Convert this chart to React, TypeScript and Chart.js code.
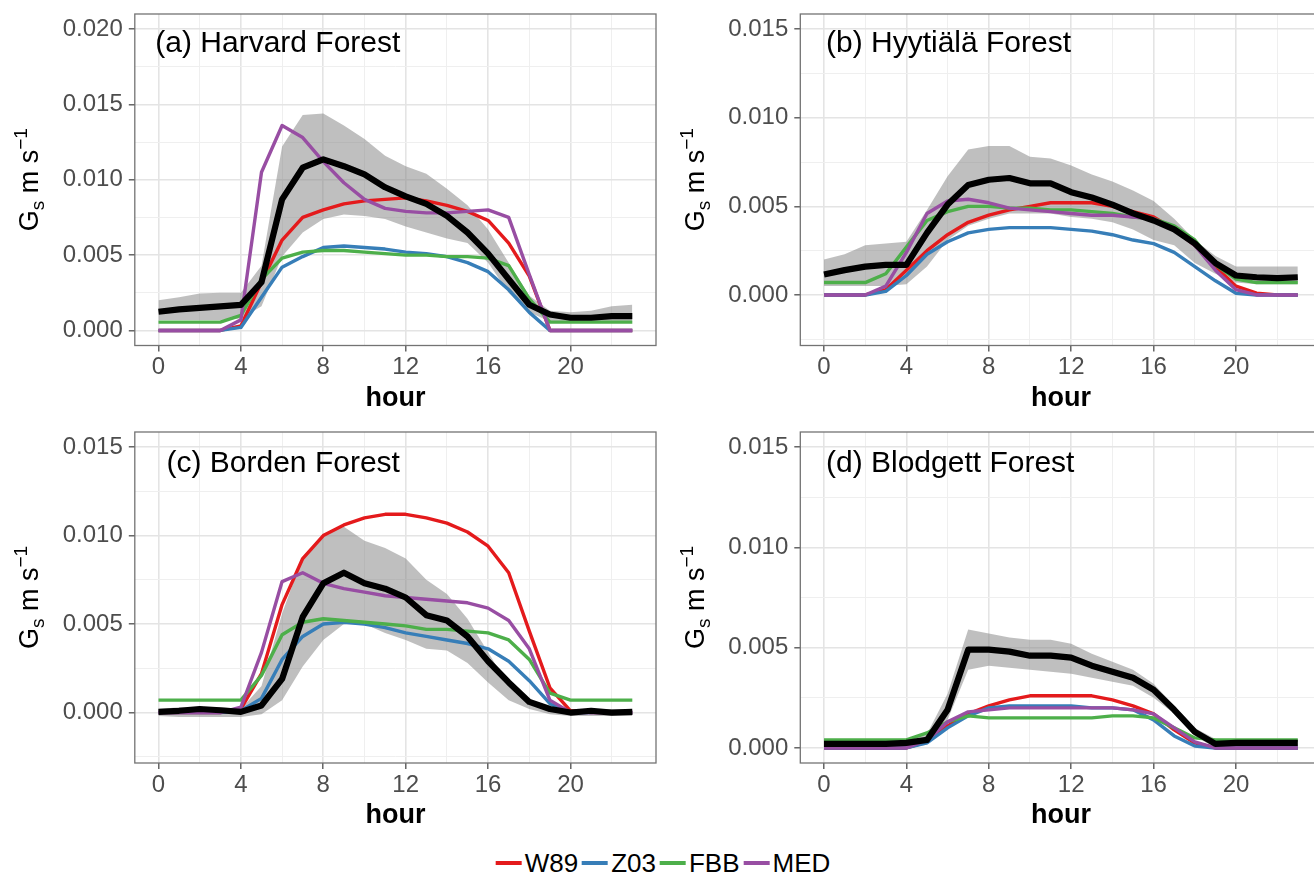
import React, { useEffect, useRef } from 'react';
import { Chart, registerables } from 'chart.js';

Chart.register(...registerables);

const FONT = '"Liberation Sans", Arial, Helvetica, sans-serif';

// ---------------- data ----------------
const HOURS = [0, 1, 2, 3, 4, 5, 6, 7, 8, 9, 10, 11, 12, 13, 14, 15, 16, 17, 18, 19, 20, 21, 22, 23];

const X_MAJOR = [0, 4, 8, 12, 16, 20];
const X_MINOR = [2, 6, 10, 14, 18, 22];

const A_Y_MAJOR = [0, 0.005, 0.01, 0.015, 0.02];
const A_Y_MINOR = [0.0025, 0.0075, 0.0125, 0.0175];
const BC_Y_MAJOR = [0, 0.005, 0.01, 0.015];
const BC_Y_MINOR = [-0.0025, 0.0025, 0.0075, 0.0125];
const D_Y_MAJOR = [0, 0.005, 0.01, 0.015];
const D_Y_MINOR = [0.0025, 0.0075, 0.0125];

const SERIES_NAMES = ['W89', 'Z03', 'FBB', 'MED'];
const SERIES_COLORS = ['#E41A1C', '#377EB8', '#4DAF4A', '#984EA3'];

// (a) Harvard Forest
const A_OBS = [0.00124, 0.0014, 0.0015, 0.0016, 0.0017, 0.0032, 0.0087, 0.0108, 0.01135, 0.0109, 0.01035, 0.0095, 0.0089, 0.0084, 0.0076, 0.0065, 0.0051, 0.0034, 0.0017, 0.00106, 0.00084, 0.00084, 0.00095, 0.00095];
const A_UP = [0.002, 0.0022, 0.00245, 0.0025, 0.0025, 0.0043, 0.0122, 0.0143, 0.0144, 0.0136, 0.0127, 0.0116, 0.0109, 0.0104, 0.0094, 0.0083, 0.0067, 0.0045, 0.0023, 0.0013, 0.0012, 0.0013, 0.0016, 0.0017];
const A_LO = [0.0007, 0.0007, 0.0007, 0.0007, 0.0008, 0.0016, 0.0049, 0.0065, 0.0074, 0.0077, 0.0076, 0.0074, 0.0069, 0.0065, 0.0061, 0.0058, 0.0045, 0.0025, 0.0012, 0.0006, 0.0006, 0.0006, 0.0006, 0.0006];
const A_W89 = [0, 0, 0, 0, 0.0003, 0.0032, 0.006, 0.0075, 0.008, 0.0084, 0.0086, 0.0087, 0.0088, 0.0086, 0.0083, 0.0079, 0.0073, 0.0058, 0.0036, 0, 0, 0, 0, 0];
const A_Z03 = [0, 0, 0, 0, 0.0002, 0.0022, 0.0042, 0.0049, 0.0055, 0.0056, 0.0055, 0.0054, 0.0052, 0.0051, 0.0049, 0.0045, 0.0039, 0.0027, 0.0012, 0, 0, 0, 0, 0];
const A_FBB = [0.00055, 0.00055, 0.00055, 0.00055, 0.001, 0.0034, 0.0048, 0.0052, 0.0053, 0.0053, 0.0052, 0.0051, 0.005, 0.005, 0.0049, 0.0049, 0.0048, 0.0043, 0.0021, 0.00055, 0.00055, 0.00055, 0.00055, 0.00055];
const A_MED = [0, 0, 0, 0, 0.0007, 0.0105, 0.0136, 0.0128, 0.0112, 0.0098, 0.0087, 0.0081, 0.0079, 0.0078, 0.0078, 0.0079, 0.008, 0.0075, 0.0037, 0, 0, 0, 0, 0];

// (b) Hyytiälä Forest
const B_OBS = [0.00116, 0.0014, 0.0016, 0.0017, 0.0017, 0.0035, 0.0051, 0.0062, 0.0065, 0.0066, 0.0063, 0.0063, 0.0058, 0.0055, 0.0051, 0.0046, 0.0042, 0.0037, 0.0029, 0.0018, 0.0011, 0.001, 0.00095, 0.001];
const B_UP = [0.002, 0.0023, 0.0028, 0.0029, 0.003, 0.0048, 0.0067, 0.0082, 0.0084, 0.0084, 0.0078, 0.0077, 0.0073, 0.0068, 0.0064, 0.0059, 0.0053, 0.0043, 0.0031, 0.0022, 0.0016, 0.0016, 0.0016, 0.0016];
const B_LO = [0.0005, 0.0005, 0.0005, 0.0005, 0.0006, 0.0016, 0.0031, 0.0039, 0.0043, 0.0046, 0.0046, 0.0046, 0.0044, 0.0043, 0.0041, 0.0037, 0.0031, 0.0028, 0.0018, 0.0012, 0.0007, 0.0006, 0.0006, 0.0006];
const B_W89 = [0, 0, 0, 0.0003, 0.0014, 0.0025, 0.0034, 0.0041, 0.0045, 0.0048, 0.005, 0.0052, 0.0052, 0.0052, 0.005, 0.0047, 0.0044, 0.0037, 0.0028, 0.0016, 0.0005, 0.0001, 0, 0];
const B_Z03 = [0, 0, 0, 0.0002, 0.0011, 0.0023, 0.003, 0.0035, 0.0037, 0.0038, 0.0038, 0.0038, 0.0037, 0.0036, 0.0034, 0.0031, 0.0029, 0.0024, 0.0016, 0.0008, 0.0001, 0, 0, 0];
const B_FBB = [0.0007, 0.0007, 0.0007, 0.0012, 0.0027, 0.0042, 0.0047, 0.005, 0.005, 0.0049, 0.0049, 0.0048, 0.0048, 0.0047, 0.0046, 0.0044, 0.0043, 0.0039, 0.0031, 0.0017, 0.0009, 0.0007, 0.0007, 0.0007];
const B_MED = [0, 0, 0, 0.0005, 0.0024, 0.0046, 0.0053, 0.0054, 0.0052, 0.0049, 0.0048, 0.0047, 0.0046, 0.0045, 0.0045, 0.0044, 0.0043, 0.0037, 0.0028, 0.0014, 0.0003, 0, 0, 0];

// (c) Borden Forest
const C_OBS = [0.00004, 0.0001, 0.0002, 0.00013, 0.00004, 0.0004, 0.0019, 0.0054, 0.0073, 0.0079, 0.0073, 0.007, 0.0065, 0.0055, 0.0052, 0.0043, 0.0029, 0.0017, 0.0006, 0.0002, 0, 0.0001, 0, 0.00004];
const C_UP = [0.0002, 0.0003, 0.0003, 0.0003, 0.0002, 0.0015, 0.0056, 0.0088, 0.0101, 0.0105, 0.0097, 0.0093, 0.0087, 0.0075, 0.0067, 0.0053, 0.0034, 0.0015, 0.0005, 0.0002, 0.0002, 0.0002, 0.0002, 0.0002];
const C_LO = [-0.0002, -0.00025, -0.00025, -0.00025, -0.00025, -0.0001, 0.0007, 0.0026, 0.0041, 0.005, 0.005, 0.0045, 0.0041, 0.0036, 0.0035, 0.0028, 0.0017, 0.0007, 0.0002, -0.0001, -0.0002, -0.0002, -0.0002, -0.0002];
const C_W89 = [0, 0, 0, 0, 0.0002, 0.0022, 0.0061, 0.0087, 0.01, 0.0106, 0.011, 0.0112, 0.0112, 0.011, 0.0107, 0.0102, 0.0094, 0.0079, 0.0046, 0.0014, 0.0001, 0, 0, 0];
const C_Z03 = [0, 0, 0, 0, 0.0001, 0.0008, 0.003, 0.0043, 0.005, 0.0051, 0.005, 0.0048, 0.0045, 0.0043, 0.0041, 0.0039, 0.0036, 0.0029, 0.0018, 0.0005, 0, 0, 0, 0];
const C_FBB = [0.0007, 0.0007, 0.0007, 0.0007, 0.0007, 0.0021, 0.0044, 0.0051, 0.0053, 0.0052, 0.0051, 0.005, 0.0049, 0.0047, 0.0047, 0.0046, 0.0045, 0.0041, 0.003, 0.0011, 0.0007, 0.0007, 0.0007, 0.0007];
const C_MED = [0, 0, 0, 0, 0.0003, 0.0034, 0.0074, 0.0079, 0.0073, 0.007, 0.0068, 0.0066, 0.0065, 0.0064, 0.0063, 0.0062, 0.0059, 0.0052, 0.0036, 0.0007, 0, 0, 0, 0];

// (d) Blodgett Forest
const D_OBS = [0.0002, 0.0002, 0.0002, 0.0002, 0.00025, 0.0004, 0.0019, 0.0049, 0.0049, 0.0048, 0.0046, 0.0046, 0.0045, 0.0041, 0.0038, 0.0035, 0.0029, 0.0019, 0.0008, 0.0002, 0.00025, 0.00025, 0.00025, 0.00025];
const D_UP = [0.0004, 0.0004, 0.0004, 0.0004, 0.0004, 0.0007, 0.0027, 0.0059, 0.0057, 0.0055, 0.0054, 0.0054, 0.0052, 0.0047, 0.0043, 0.0039, 0.0032, 0.0021, 0.001, 0.00045, 0.00045, 0.00045, 0.00045, 0.00045];
const D_LO = [0, 0, 0, 0, 0, 0.00016, 0.0014, 0.0039, 0.0041, 0.004, 0.0039, 0.0038, 0.0037, 0.0035, 0.0033, 0.0031, 0.0025, 0.0017, 0.0006, 0, 0, 0, 0, 0];
const D_W89 = [0, 0, 0, 0, 0, 0.0003, 0.0011, 0.0017, 0.0021, 0.0024, 0.0026, 0.0026, 0.0026, 0.0026, 0.0024, 0.0021, 0.0017, 0.0009, 0.00025, 0, 0, 0, 0, 0];
const D_Z03 = [0, 0, 0, 0, 0, 0.00025, 0.001, 0.0016, 0.002, 0.0021, 0.0021, 0.0021, 0.0021, 0.002, 0.002, 0.0019, 0.0014, 0.0006, 0.0001, 0, 0, 0, 0, 0];
const D_FBB = [0.0004, 0.0004, 0.0004, 0.0004, 0.0004, 0.00075, 0.0013, 0.0016, 0.0015, 0.0015, 0.0015, 0.0015, 0.0015, 0.0015, 0.0016, 0.0016, 0.0015, 0.001, 0.0005, 0.0004, 0.0004, 0.0004, 0.0004, 0.0004];
const D_MED = [0, 0, 0, 0, 0, 0.0004, 0.0013, 0.0018, 0.0019, 0.002, 0.002, 0.002, 0.002, 0.002, 0.002, 0.0019, 0.0017, 0.001, 0.0003, 0, 0, 0, 0, 0];

// ---------------- layout ----------------
type Panel = {
  key: string;
  title: string;
  obs: number[];
  up: number[];
  lo: number[];
  models: number[][];
  yMin: number;
  yMax: number;
  yMajor: number[];
  yMinor: number[];
  box: { left: number; top: number; width: number; height: number };
  area: { left: number; right: number; top: number; bottom: number };
  titleDx: number;
  titleDy: number;
};

const X_MIN = -1.15;
const X_MAX = 24.15;

const PANELS: Panel[] = [
  {
    key: 'a', title: '(a) Harvard Forest', obs: A_OBS, up: A_UP, lo: A_LO,
    models: [A_W89, A_Z03, A_FBB, A_MED], yMin: -0.001, yMax: 0.021,
    yMajor: A_Y_MAJOR, yMinor: A_Y_MINOR,
    box: { left: 0, top: 0, width: 660, height: 420 },
    area: { left: 134.8, right: 656, top: 14, bottom: 345.5 },
    titleDx: 20.5, titleDy: 37.7,
  },
  {
    key: 'b', title: '(b) Hyytiälä Forest', obs: B_OBS, up: B_UP, lo: B_LO,
    models: [B_W89, B_Z03, B_FBB, B_MED], yMin: -0.00285, yMax: 0.01585,
    yMajor: BC_Y_MAJOR, yMinor: BC_Y_MINOR,
    box: { left: 660, top: 0, width: 680, height: 420 },
    area: { left: 140.3, right: 661.5, top: 14, bottom: 345.5 },
    titleDx: 25.7, titleDy: 38,
  },
  {
    key: 'c', title: '(c) Borden Forest', obs: C_OBS, up: C_UP, lo: C_LO,
    models: [C_W89, C_Z03, C_FBB, C_MED], yMin: -0.00285, yMax: 0.01585,
    yMajor: BC_Y_MAJOR, yMinor: BC_Y_MINOR,
    box: { left: 0, top: 420, width: 660, height: 420 },
    area: { left: 134.8, right: 656, top: 12, bottom: 343 },
    titleDx: 31.7, titleDy: 39.7,
  },
  {
    key: 'd', title: '(d) Blodgett Forest', obs: D_OBS, up: D_UP, lo: D_LO,
    models: [D_W89, D_Z03, D_FBB, D_MED], yMin: -0.00075, yMax: 0.01575,
    yMajor: D_Y_MAJOR, yMinor: D_Y_MINOR,
    box: { left: 660, top: 420, width: 680, height: 420 },
    area: { left: 140.3, right: 661.5, top: 12, bottom: 343 },
    titleDx: 25.7, titleDy: 39.7,
  },
];

const GRID_MAJOR = '#E4E4E4';
const GRID_MINOR = '#EFEFEF';
const TICK_TEXT = '#4D4D4D';
const TICK_MARK = '#4D4D4D';
const BORDER = '#737373';
const RIBBON = 'rgba(128,128,128,0.5)';

const near = (list: number[], v: number) => list.some((m) => Math.abs(m - v) < 1e-9);

function makeDecor(p: Panel) {
  return {
    id: 'decor_' + p.key,
    afterDraw(chart: any) {
      const { ctx, chartArea: a } = chart;
      ctx.save();
      // panel border
      ctx.strokeStyle = BORDER;
      ctx.lineWidth = 1.3;
      ctx.strokeRect(a.left, a.top, a.right - a.left, a.bottom - a.top);
      // panel title
      ctx.fillStyle = '#000';
      ctx.font = `30px ${FONT}`;
      ctx.textAlign = 'left';
      ctx.textBaseline = 'alphabetic';
      ctx.fillText(p.title, a.left + p.titleDx, a.top + p.titleDy);
      // y axis title: G_s m s^-1
      ctx.translate(a.left - 96.5, (a.top + a.bottom) / 2);
      ctx.rotate(-Math.PI / 2);
      const big = `27px ${FONT}`;
      const small = `19px ${FONT}`;
      const parts: [string, string, number][] = [
        ['G', big, 0],
        ['s', small, 6],
        [' m s', big, 0],
        ['\u22121', small, -11],
      ];
      let total = 0;
      for (const [t, f] of parts) {
        ctx.font = f;
        total += ctx.measureText(t).width;
      }
      let x = -total / 2;
      for (const [t, f, dy] of parts) {
        ctx.font = f;
        ctx.fillText(t, x, dy);
        x += ctx.measureText(t).width;
      }
      ctx.restore();
    },
  };
}

function PanelChart({ p }: { p: Panel }) {
  const ref = useRef<HTMLCanvasElement | null>(null);
  useEffect(() => {
    if (!ref.current) return;
    const pts = (arr: number[]) => HOURS.map((h, i) => ({ x: h, y: arr[i] }));
    const lineBase = { pointRadius: 0, fill: false, tension: 0, borderJoinStyle: 'round' as const, borderCapStyle: 'butt' as const };
    const modelOrder = [3, 2, 1, 0];
    const datasets: any[] = [
      { label: 'OBS', data: pts(p.obs), borderColor: '#000000', borderWidth: 6.2, ...lineBase },
      ...modelOrder.map((i) => ({
        label: SERIES_NAMES[i],
        data: pts(p.models[i]),
        borderColor: SERIES_COLORS[i],
        borderWidth: 3.4,
        ...lineBase,
      })),
      { label: 'upper', data: pts(p.up), borderColor: 'rgba(0,0,0,0)', borderWidth: 0, pointRadius: 0, tension: 0, fill: '+1', backgroundColor: RIBBON },
      { label: 'lower', data: pts(p.lo), borderColor: 'rgba(0,0,0,0)', borderWidth: 0, pointRadius: 0, tension: 0, fill: false },
    ];
    const titleFontSize = 27;
    const titleLH = titleFontSize * 1.2;
    const hourBaseline = p.area.bottom + 62;
    const titlePadBottom = p.box.height - titleLH / 2 - (hourBaseline - 0.3465 * titleFontSize);

    const yTicks = [...p.yMajor, ...p.yMinor].sort((a, b) => a - b);
    const xTicks = [...X_MAJOR, ...X_MINOR].sort((a, b) => a - b);

    const chart = new Chart(ref.current, {
      type: 'line',
      data: { datasets },
      plugins: [makeDecor(p)],
      options: {
        animation: false,
        responsive: false,
        devicePixelRatio: 1,
        events: [],
        layout: {
          autoPadding: false,
          padding: { left: 0, top: p.area.top, right: p.box.width - p.area.right, bottom: 0 },
        },
        plugins: {
          legend: { display: false },
          tooltip: { enabled: false },
          title: { display: false },
          filler: { propagate: false },
        },
        scales: {
          x: {
            type: 'linear',
            min: X_MIN,
            max: X_MAX,
            afterBuildTicks: (s: any) => {
              s.ticks = xTicks.map((v) => ({ value: v }));
            },
            afterFit: (s: any) => {
              s.height = p.box.height - p.area.bottom;
              s.paddingLeft = 0;
              s.paddingRight = 0;
            },
            ticks: {
              autoSkip: false,
              maxRotation: 0,
              minRotation: 0,
              padding: 4,
              color: TICK_TEXT,
              font: { family: FONT, size: 24, lineHeight: 1 },
              callback: (v: any) => (near(X_MAJOR, Number(v)) ? String(v) : ''),
            },
            grid: {
              color: (c: any) => (c.tick && near(X_MAJOR, c.tick.value) ? GRID_MAJOR : GRID_MINOR),
              lineWidth: (c: any) => (c.tick && near(X_MAJOR, c.tick.value) ? 1.6 : 1),
              drawTicks: true,
              tickLength: 6,
              tickWidth: 1.3,
              tickColor: (c: any) => (c.tick && near(X_MAJOR, c.tick.value) ? TICK_MARK : 'rgba(0,0,0,0)'),
            },
            border: { display: false },
            title: {
              display: true,
              text: 'hour',
              color: '#000',
              font: { family: FONT, size: titleFontSize, weight: 'bold', lineHeight: 1.2 },
              padding: { top: 0, bottom: titlePadBottom },
            },
          },
          y: {
            type: 'linear',
            min: p.yMin,
            max: p.yMax,
            afterBuildTicks: (s: any) => {
              s.ticks = yTicks.map((v) => ({ value: v }));
            },
            afterFit: (s: any) => {
              s.width = p.area.left;
              s.paddingTop = 0;
              s.paddingBottom = 0;
            },
            ticks: {
              autoSkip: false,
              padding: 6,
              color: TICK_TEXT,
              font: { family: FONT, size: 24, lineHeight: 1 },
              callback: (v: any) => (near(p.yMajor, Number(v)) ? Number(v).toFixed(3) : ''),
            },
            grid: {
              color: (c: any) => (c.tick && near(p.yMajor, c.tick.value) ? GRID_MAJOR : GRID_MINOR),
              lineWidth: (c: any) => (c.tick && near(p.yMajor, c.tick.value) ? 1.6 : 1),
              drawTicks: true,
              tickLength: 6,
              tickWidth: 1.3,
              tickColor: (c: any) => (c.tick && near(p.yMajor, c.tick.value) ? TICK_MARK : 'rgba(0,0,0,0)'),
            },
            border: { display: false },
          },
        },
      } as any,
    });
    return () => chart.destroy();
  }, [p]);

  return (
    <canvas
      ref={ref}
      width={p.box.width}
      height={p.box.height}
      style={{
        position: 'absolute',
        left: p.box.left,
        top: p.box.top,
        width: p.box.width,
        height: p.box.height,
      }}
    />
  );
}

function Legend() {
  return (
    <div
      style={{
        position: 'absolute',
        top: 850,
        left: 663,
        transform: 'translateX(-50%)',
        display: 'flex',
        alignItems: 'center',
        fontFamily: FONT,
        fontSize: 26,
        lineHeight: '26px',
        color: '#000',
        whiteSpace: 'nowrap',
      }}
    >
      {SERIES_NAMES.map((name, i) => (
        <div key={name} style={{ display: 'flex', alignItems: 'center', marginRight: i < SERIES_NAMES.length - 1 ? 4 : 0 }}>
          <span style={{ display: 'inline-block', width: 26, height: 4, background: SERIES_COLORS[i], marginRight: 3 }} />
          <span>{name}</span>
        </div>
      ))}
    </div>
  );
}

export default function App() {
  return (
    <div
      style={{
        position: 'fixed',
        left: 0,
        top: 0,
        width: 1314,
        height: 875,
        overflow: 'hidden',
        background: '#ffffff',
      }}
    >
      {PANELS.map((p) => (
        <PanelChart key={p.key} p={p} />
      ))}
      <Legend />
    </div>
  );
}
